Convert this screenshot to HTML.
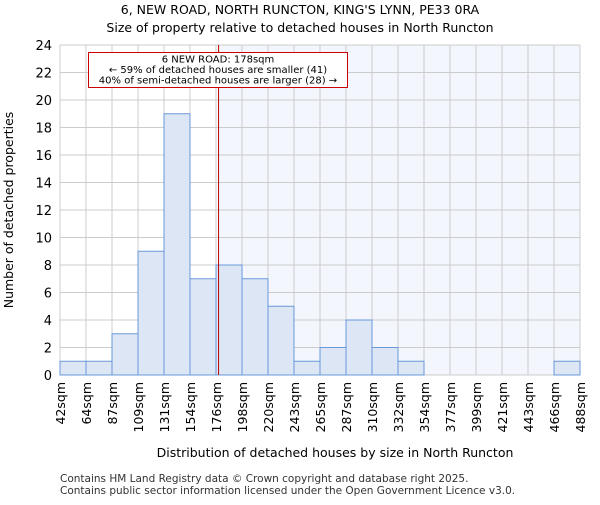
<!DOCTYPE html>
<html><head><meta charset="utf-8"><style>
body{margin:0;background:#fff;font-family:"Liberation Sans","DejaVu Sans",sans-serif}
svg text{font-family:"DejaVu Sans","Liberation Sans",sans-serif}
</style></head><body>
<svg id="chart" width="600" height="500" viewBox="0 0 600 500">
<text x="300" y="14" text-anchor="middle" font-size="12.5">6, NEW ROAD, NORTH RUNCTON, KING'S LYNN, PE33 0RA</text>
<text x="300" y="32" text-anchor="middle" font-size="12.5">Size of property relative to detached houses in North Runcton</text>
<g id="plot"></g>
<text x="335" y="457" text-anchor="middle" font-size="12.5">Distribution of detached houses by size in North Runcton</text>
<text transform="translate(13,210) rotate(-90)" text-anchor="middle" font-size="12.5">Number of detached properties</text>
<text x="60" y="482" font-size="10.5" fill="#333">Contains HM Land Registry data © Crown copyright and database right 2025.</text>
<text x="60" y="494" font-size="10.5" fill="#333">Contains public sector information licensed under the Open Government Licence v3.0.</text>
</svg>
<script>
const binLabels=["42sqm","64sqm","87sqm","109sqm","131sqm","154sqm","176sqm","198sqm","220sqm","243sqm","265sqm","287sqm","310sqm","332sqm","354sqm","377sqm","399sqm","421sqm","443sqm","466sqm","488sqm"];
const counts=[1,1,3,9,19,7,8,7,5,1,2,4,2,1,0,0,0,0,0,1];
const yTicks=[0,2,4,6,8,10,12,14,16,18,20,22,24];
const subjectSize=178;
const binStart=42, binStep=22.3;
const NS="http://www.w3.org/2000/svg";
const L=60,R=580,T=45,B=375,yMax=24;
const n=counts.length, bw=(R-L)/n;
const xi=i=>L+i*bw;
const xv=v=>L+(v-binStart)/binStep*bw;
const y=v=>B-v/yMax*(B-T);
const g=document.getElementById('plot');
function mk(tag,attrs){const e=document.createElementNS(NS,tag);for(const k in attrs)e.setAttribute(k,attrs[k]);g.appendChild(e);return e;}
let e;
const sx=xv(subjectSize);
e=mk('rect',{x:sx,y:T,width:R-sx,height:B-T,fill:'#f3f6fd'});


for(let i=0;i<=n;i++){e=mk('line',{x1:xi(i),x2:xi(i),y1:T,y2:B,stroke:'#ccc','stroke-width':1});

}
yTicks.forEach(t=>{e=mk('line',{x1:L,x2:R,y1:y(t),y2:y(t),stroke:'#ccc','stroke-width':1});


e=mk('text',{x:L-8,y:y(t)+5,'text-anchor':'end','font-size':13});e.textContent=t;

});
counts.forEach((c,i)=>{if(c<=0)return;e=mk('rect',{x:xi(i),y:y(c),width:bw,height:B-y(c),fill:'#dce6f4',stroke:'#6a98da','stroke-width':1});

});
binLabels.forEach((l,i)=>{e=mk('text',{transform:`translate(${xi(i)+5},382) rotate(-90)`,'text-anchor':'end','font-size':12.5});e.textContent=l;

});
e=mk('line',{x1:sx,x2:sx,y1:T,y2:B,stroke:'#b00','stroke-width':1});


e=mk('rect',{x:88.5,y:52.5,width:259,height:35,fill:'#fff',stroke:'#c00','stroke-width':1});


["6 NEW ROAD: 178sqm","← 59% of detached houses are smaller (41)","40% of semi-detached houses are larger (28) →"].forEach((s,k)=>{
e=mk('text',{x:218,y:62.5+k*10.5,'text-anchor':'middle','font-size':10});e.textContent=s;

});
</script>
</body></html>
